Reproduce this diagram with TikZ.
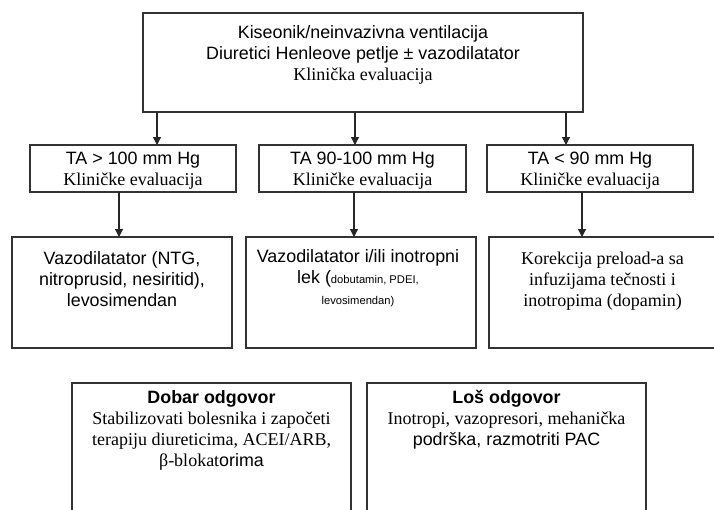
\documentclass[tikz,border=0pt]{standalone}
\usepackage{fontspec}
\setmainfont{Liberation Serif}
\setsansfont{Liberation Sans}
\usetikzlibrary{positioning,arrows.meta}
\newcommand{\sanstxt}{\sffamily\fontsize{13.4}{15.75}\selectfont}
\newcommand{\seriftxt}{\rmfamily\fontsize{13.5}{15.75}\selectfont}
\newcommand{\smalltxt}{\sffamily\fontsize{8.4}{9}\selectfont}
\tikzset{box/.style={draw=black!80,line width=0.9pt,inner sep=0pt,outer sep=0pt},
    txt/.style={align=center,inner sep=0.75pt,font=\sanstxt},
    arr/.style={draw=black!85,line width=0.9pt,-{Triangle[length=6pt,width=6pt]}}}

\begin{document}
\begin{tikzpicture}[x=0.75pt,y=0.75pt,yscale=-1,xscale=1]
\clip (0,0) rectangle (714,510);

%Boxes
\node[box,minimum width=330pt,minimum height=74.25pt] (top) at (363,62.5) {};
\node[box,minimum width=154.5pt,minimum height=35.25pt] (ta1) at (133,168.5) {};
\node[box,minimum width=155.25pt,minimum height=35.25pt] (ta2) at (362.5,168.5) {};
\node[box,minimum width=154.5pt,minimum height=35.25pt] (ta3) at (590,168.5) {};
\node[box,minimum width=165pt,minimum height=83.25pt] (v1) at (122,292.5) {};
\node[box,minimum width=172.5pt,minimum height=83.25pt] (v2) at (361,292.5) {};
\node[box,minimum width=170.25pt,minimum height=83.25pt] (v3) at (602.5,292.5) {};
\node[box,minimum width=209.25pt,minimum height=110.25pt] (dobar) at (211.5,456.5) {};
\node[box,minimum width=209.25pt,minimum height=110.25pt] (los) at (506.5,456.5) {};

% Text Node
\node[txt] (toptxt) at (363,54.5) {Kiseonik/neinvazivna ventilacija\\
    Diuretici Henleove petlje ± vazodilatator\\
    {\seriftxt Klinička evaluacija}};
% Text Node
\node[txt] (ta1txt) at (133,171) {TA > 100 mm Hg\\{\seriftxt Kliničke evaluacija}};
\node[txt] (ta2txt) at (362.5,171) {TA 90-100 mm Hg\\{\seriftxt Kliničke evaluacija}};
\node[txt] (ta3txt) at (590,171) {TA < 90 mm Hg\\{\seriftxt Kliničke evaluacija}};
% Text Node
\node[txt] (v1txt) at (122,279) {Vazodilatator (NTG,\\nitroprusid, nesiritid),\\levosimendan};
\node[txt] (v2txt) at (358,278) {Vazodilatator i/ili inotropni\\
    lek ({\smalltxt dobutamin, PDEI,}\\{\smalltxt levosimendan)}};
\node[txt,font=\seriftxt] (v3txt) at (602.5,281) {Korekcija preload-a sa\\infuzijama tečnosti i\\inotropima (dopamin)};
% Text Node
\node[txt] (dobartxt) at (211.5,430) {\textbf{Dobar odgovor}\\
    {\seriftxt Stabilizovati bolesnika i započeti}\\
    {\seriftxt terapiju diureticima, ACEI/ARB,}\\
    {\seriftxt β-blokat}orima};
\node[txt] (lostxt) at (506.5,420) {\textbf{Loš odgovor}\\
    {\seriftxt Inotropi, vazopresori, mehanička}\\
    podrška, razmotriti PAC};

%Arrows
\coordinate (s1) at (157,112);
\coordinate (s2) at (355,112);
\coordinate (s3) at (566,112);
\draw[arr] (s1) -- (s1 |- ta1.north);
\draw[arr] (s2) -- (s2 |- ta2.north);
\draw[arr] (s3) -- (s3 |- ta3.north);
\coordinate (c1) at (119,192);
\coordinate (c2) at (354,192);
\coordinate (c3) at (582,192);
\draw[arr] (c1) -- (c1 |- v1.north);
\draw[arr] (c2) -- (c2 |- v2.north);
\draw[arr] (c3) -- (c3 |- v3.north);

\end{tikzpicture}
\end{document}
